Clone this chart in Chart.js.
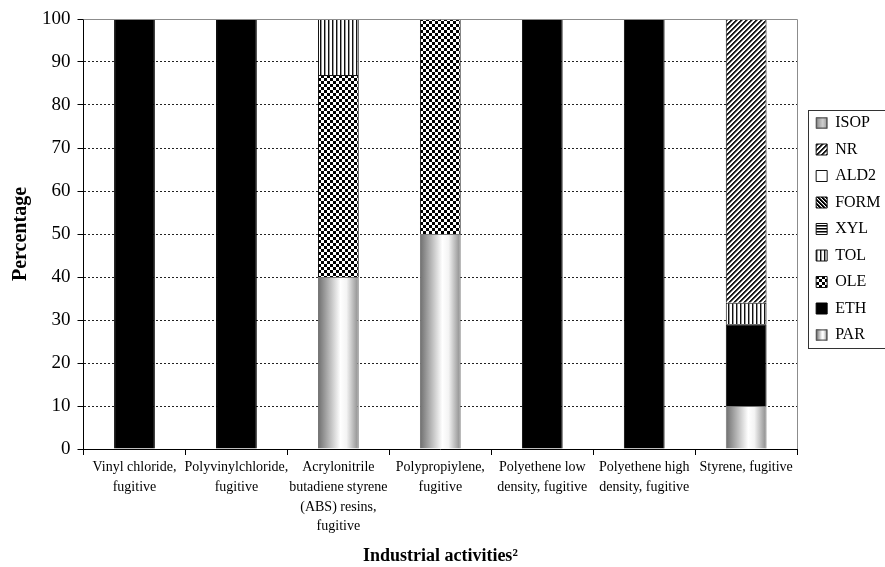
<!DOCTYPE html>
<html>
<head>
  <meta charset="UTF-8">
  <title>Industrial activities - percentage</title>
  <script src="https://cdn.jsdelivr.net/npm/chart.js"></script>
  <style>
    html, body { margin: 0; padding: 0; background: #fff; }
  </style>
</head>
<body>
  <canvas id="chart" width="885" height="567"></canvas>

  <script>
    // categories (x axis)
    const categories = [
      ['Vinyl chloride,', 'fugitive'],
      ['Polyvinylchloride,', 'fugitive'],
      ['Acrylonitrile', 'butadiene styrene', '(ABS) resins,', 'fugitive'],
      ['Polypropiylene,', 'fugitive'],
      ['Polyethene low', 'density, fugitive'],
      ['Polyethene high', 'density, fugitive'],
      ['Styrene, fugitive']
    ];

    // series values (percent), stacked bottom to top
    const PAR  = [0, 0, 40, 50, 0, 0, 10];
    const ETH  = [100, 100, 0, 0, 100, 100, 19];
    const OLE  = [0, 0, 47, 50, 0, 0, 0];
    const TOL  = [0, 0, 13, 0, 0, 0, 5];
    const XYL  = [0, 0, 0, 0, 0, 0, 0];
    const FORM = [0, 0, 0, 0, 0, 0, 0];
    const ALD2 = [0, 0, 0, 0, 0, 0, 0];
    const NR   = [0, 0, 0, 0, 0, 0, 66];
    const ISOP = [0, 0, 0, 0, 0, 0, 0];

    const yTicks = [0, 10, 20, 30, 40, 50, 60, 70, 80, 90, 100];

    const serif = '"Liberation Serif", "Times New Roman", serif';
    const barPct = 0.4;
    const swatch = 11;

    // small pixel patterns
    function makePattern(size, paint) {
      const c = document.createElement('canvas');
      c.width = size; c.height = size;
      const g = c.getContext('2d');
      g.fillStyle = '#fff';
      g.fillRect(0, 0, size, size);
      for (let y = 0; y < size; y++) {
        for (let x = 0; x < size; x++) {
          const col = paint(x, y);
          if (col) { g.fillStyle = col; g.fillRect(x, y, 1, 1); }
        }
      }
      return g.createPattern(c, 'repeat');
    }

    const patNR   = makePattern(5, (x, y) => ((x + y) % 5 < 2 ? '#1a1a1a' : ((x + y) % 5 === 2 ? '#888' : null)));
    const patFORM = makePattern(4, (x, y) => ((x - y + 40) % 4 < 2 ? '#000' : ((x - y + 40) % 4 === 2 ? '#666' : null)));
    const patXYL  = makePattern(3, (x, y) => (y === 0 ? '#000' : (y === 1 ? '#777' : null)));
    const patTOL  = makePattern(4, (x, y) => (x === 0 ? '#111' : (x === 1 ? '#999' : null)));
    const patOLE  = makePattern(6, (x, y) => (((Math.floor(x / 3) + Math.floor(y / 3)) % 2 === 0) ? '#000' : null));

    // horizontal "cylinder" gradient for a bar
    function cylinder(stops, fallback) {
      return function (ctx) {
        const chart = ctx.chart;
        if (!chart.chartArea || ctx.dataIndex === undefined) return fallback;
        const xs = chart.scales.x;
        const cx = xs.getPixelForValue(ctx.dataIndex);
        const w = (xs.width / categories.length) * barPct;
        const g = chart.ctx.createLinearGradient(cx - w / 2, 0, cx + w / 2, 0);
        stops.forEach(s => g.addColorStop(s[0], s[1]));
        return g;
      };
    }
    const parStops  = [[0, '#6e6e6e'], [0.55, '#ffffff'], [0.7, '#f4f4f4'], [1, '#8a8a8a']];
    const isopStops = [[0, '#8a8a8a'], [0.6, '#cfcfcf'], [1, '#9a9a9a']];

    const datasets = [
      { label: 'PAR',  data: PAR,  backgroundColor: cylinder(parStops, '#d8d8d8'), borderColor: '#777', swatch: parStops },
      { label: 'ETH',  data: ETH,  backgroundColor: '#000', borderColor: '#000' },
      { label: 'OLE',  data: OLE,  backgroundColor: patOLE, borderColor: '#111' },
      { label: 'TOL',  data: TOL,  backgroundColor: patTOL, borderColor: '#111' },
      { label: 'XYL',  data: XYL,  backgroundColor: patXYL, borderColor: '#111' },
      { label: 'FORM', data: FORM, backgroundColor: patFORM, borderColor: '#111' },
      { label: 'ALD2', data: ALD2, backgroundColor: '#fff', borderColor: '#111' },
      { label: 'NR',   data: NR,   backgroundColor: patNR, borderColor: '#111' },
      { label: 'ISOP', data: ISOP, backgroundColor: cylinder(isopStops, '#b0b0b0'), borderColor: '#666', swatch: isopStops }
    ].map(d => Object.assign({ borderWidth: 1, barPercentage: barPct, categoryPercentage: 1 }, d));

    // top/right frame of the plot box, and the legend frame
    const frames = {
      id: 'frames',
      afterLayout(chart) {
        // nudge the legend a little right of the plot and up, as in the original
        const lg = chart.legend;
        lg.left += 8.5; lg.right += 8.5;
        lg.top -= 5; lg.bottom -= 5;
      },
      afterDraw(chart) {
        const c = chart.ctx;
        const a = chart.chartArea;
        c.save();
        c.strokeStyle = '#8c8c8c';
        c.lineWidth = 1;
        c.beginPath();
        c.moveTo(a.left, Math.round(a.top) + 0.5);
        c.lineTo(Math.round(a.right) + 0.5, Math.round(a.top) + 0.5);
        c.lineTo(Math.round(a.right) + 0.5, a.bottom);
        c.stroke();

        const boxes = chart.legend.legendHitBoxes;
        if (boxes && boxes.length) {
          let l = Infinity, t = Infinity, b = -Infinity;
          boxes.forEach(h => {
            l = Math.min(l, h.left); t = Math.min(t, h.top);
            b = Math.max(b, h.top + h.height);
          });
          c.strokeStyle = '#333';
          const bl = Math.round(l - 8) + 0.5, bt = Math.round(t - 5) + 0.5;
          c.strokeRect(bl, bt, chart.width + 2 - bl, Math.round(b - t + 10));

          // gradient swatches in the legend
          const items = chart.legend.legendItems;
          items.forEach((it, i) => {
            const ds = chart.data.datasets[it.datasetIndex];
            if (!ds.swatch) return;
            const h = boxes[i];
            const x = h.left, y = h.top + (h.height - swatch) / 2;
            const g = c.createLinearGradient(x, 0, x + swatch, 0);
            ds.swatch.forEach(s => g.addColorStop(s[0], s[1]));
            c.fillStyle = g;
            c.fillRect(x, y, swatch, swatch);
            c.strokeStyle = '#555';
            c.strokeRect(x + 0.5, y + 0.5, swatch - 1, swatch - 1);
          });
        }
        c.restore();
      }
    };

    new Chart(document.getElementById('chart'), {
      type: 'bar',
      data: { labels: categories, datasets: datasets },
      options: {
        responsive: false,
        animation: false,
        layout: { padding: { top: 19, right: 3, left: 9, bottom: 0 } },
        plugins: {
          tooltip: { enabled: false },
          legend: {
            position: 'right',
            fullSize: false,
            reverse: true,
            labels: {
              boxWidth: swatch,
              boxHeight: swatch,
              padding: 10.5,
              color: '#000',
              font: { family: serif, size: 16 }
            }
          }
        },
        scales: {
          x: {
            stacked: true,
            grid: {
              display: true,
              drawOnChartArea: false,
              drawTicks: true,
              tickLength: 6,
              color: '#000'
            },
            border: { display: true, color: '#000', width: 1 },
            ticks: {
              color: '#000',
              autoSkip: false,
              maxRotation: 0,
              padding: 3,
              font: { family: serif, size: 14, lineHeight: 1.4 }
            },
            title: {
              display: true,
              text: 'Industrial activities²',
              color: '#000',
              font: { family: serif, size: 18, weight: 'bold' },
              padding: { top: 6, bottom: 0 }
            }
          },
          y: {
            stacked: true,
            min: 0,
            max: 100,
            afterBuildTicks: s => { s.ticks = yTicks.map(v => ({ value: v })); },
            grid: {
              color: c => (c.tick && (c.tick.value === 0 || c.tick.value === 100)) ? 'rgba(0,0,0,0)' : '#222',
              tickColor: '#000',
              tickBorderDash: [],
              tickLength: 6,
              lineWidth: 1
            },
            border: { display: true, color: '#000', width: 1, dash: [2, 2] },
            ticks: {
              color: '#000',
              padding: 7,
              font: { family: serif, size: 19 }
            },
            title: {
              display: true,
              text: 'Percentage',
              color: '#000',
              font: { family: serif, size: 20, weight: 'bold' },
              padding: { top: 0, bottom: 2 }
            }
          }
        }
      },
      plugins: [frames]
    });
  </script>
</body>
</html>
